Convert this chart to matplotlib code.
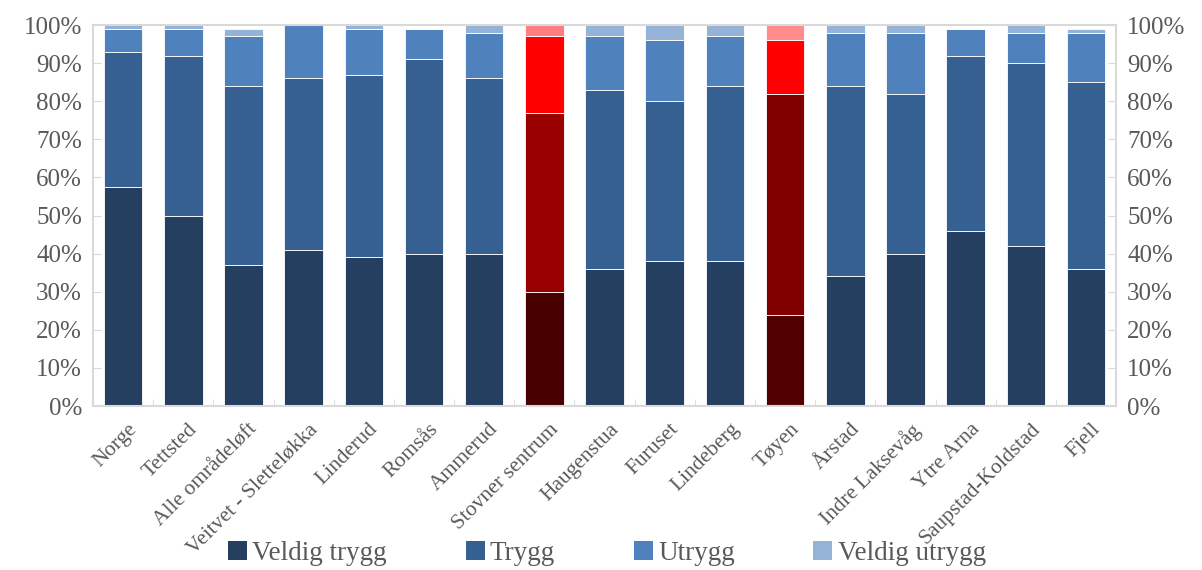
import matplotlib.pyplot as plt
import numpy as np
from matplotlib.patches import Patch
from matplotlib.ticker import PercentFormatter

plt.rcParams['font.family'] = ['Liberation Serif', 'DejaVu Serif']

steder = ['Norge', 'Tettsted', 'Alle områdeløft', 'Veitvet - Sletteløkka',
          'Linderud', 'Romsås', 'Ammerud', 'Stovner sentrum', 'Haugenstua',
          'Furuset', 'Lindeberg', 'Tøyen', 'Årstad', 'Indre Laksevåg',
          'Ytre Arna', 'Saupstad-Koldstad', 'Fjell']
veldig_trygg = [57.5, 50, 37, 41, 39, 40, 40, 30, 36, 38, 38, 24, 34, 40, 46, 42, 36]
trygg = [35.5, 42, 47, 45, 48, 51, 46, 47, 47, 42, 46, 58, 50, 42, 46, 48, 49]
utrygg = [6, 7, 13, 14, 12, 8, 12, 20, 14, 16, 13, 14, 14, 16, 7, 8, 13]
veldig_utrygg = [1, 1, 2, 0, 1, 0, 2, 3, 3, 4, 3, 4, 2, 2, 0, 2, 1]
serier = ['Veldig trygg', 'Trygg', 'Utrygg', 'Veldig utrygg']

blue = ['#253F60', '#366092', '#4F81BD', '#95B3D7']
red = {'Stovner sentrum': ['#480000', '#990000', '#FF0000', '#FF7C80'],
       'Tøyen': ['#500000', '#800000', '#FF0000', '#FF8B8B']}

fig = plt.figure(figsize=(12.02, 5.70), dpi=100)
ax = fig.add_axes([0.0774, 0.2877, 0.8511, 0.6684])

x = np.arange(len(steder))
data = [veldig_trygg, trygg, utrygg, veldig_utrygg]
bottom = np.zeros(len(steder))
for k, vals in enumerate(data):
    cols = [red[s][k] if s in red else blue[k] for s in steder]
    ax.bar(x, vals, 0.64, bottom=bottom, color=cols, edgecolor='#FFFFFF',
           linewidth=0.6)
    bottom += np.array(vals)

ax.set_xlim(-0.5, len(steder) - 0.5)
ax.set_ylim(0, 100)
ax.set_yticks(np.arange(0, 101, 10))
ax.yaxis.set_major_formatter(PercentFormatter(decimals=0))
ax.set_xticks(x + 0.08)
ax.set_xticklabels(steder, rotation=45, ha='right', rotation_mode='anchor')
ax.set_xticks(np.arange(-0.5, len(steder), 1), minor=True)

for sp in ax.spines.values():
    sp.set_color('#D9D9D9')
    sp.set_linewidth(1.5)
ax.tick_params(axis='y', direction='in', length=6, color='#D9D9D9',
               labelsize=18, labelcolor='#595959', right=True, labelright=True, pad=8)
ax.tick_params(axis='x', which='major', length=0, labelsize=15.5, labelcolor='#595959', pad=10)
ax.tick_params(axis='x', which='minor', direction='in', length=5, color='#D9D9D9')

handles = [Patch(facecolor=c, edgecolor='none') for c in blue]
fig.legend(handles, serier, loc='lower center', ncol=4, bbox_to_anchor=(0.505, -0.036),
           frameon=False, fontsize=19.5, handlelength=0.7, handleheight=0.7,
           handletextpad=0.2, columnspacing=2.9, labelcolor='#595959')

fig.savefig('out.png', dpi=100)
